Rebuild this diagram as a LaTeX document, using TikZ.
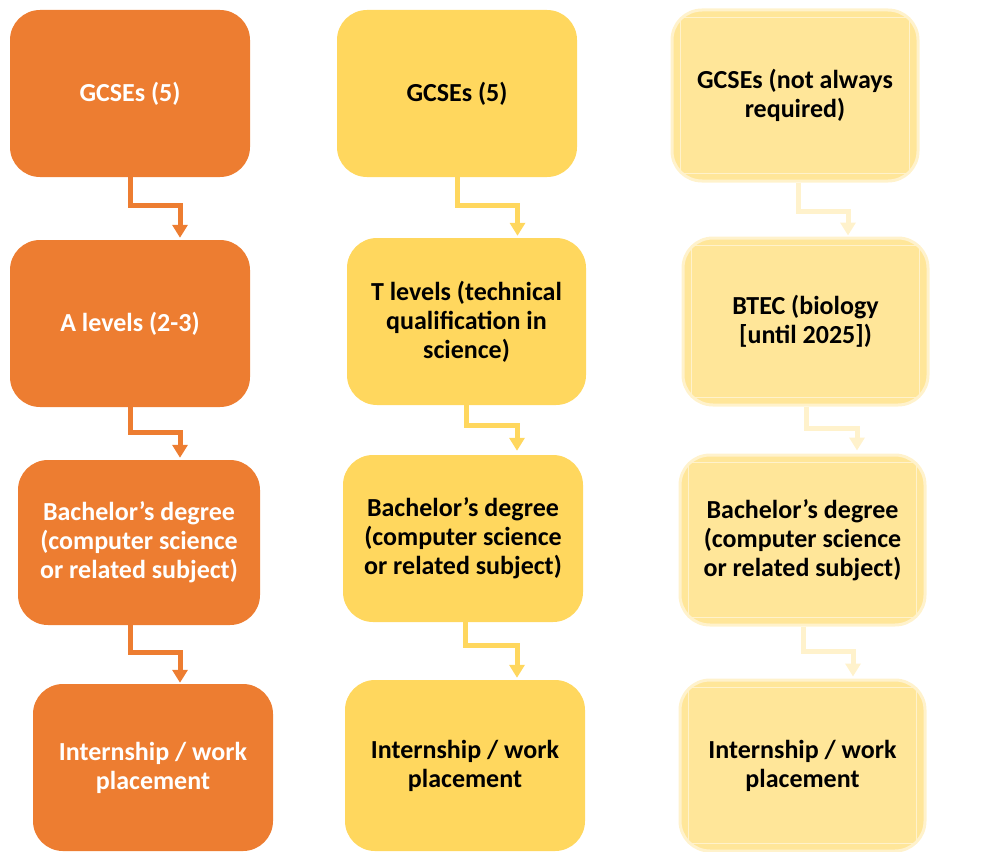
\documentclass[tikz,border=0pt]{standalone}
\usepackage{fontspec}
\setmainfont{Carlito}
\usetikzlibrary{arrows.meta}
\definecolor{orangeA}{HTML}{ED7D31}
\definecolor{goldB}{HTML}{FFD75E}
\definecolor{goldC}{HTML}{FFE699}
\definecolor{goldCl}{HTML}{FFF2CC}
\tikzset{
  box/.style={rectangle, rounded corners=30pt, align=center, inner sep=0pt,
    font=\fontsize{26}{29}\selectfont\bfseries},
  boxA/.style={box, fill=orangeA, text=white},
  boxB/.style={box, fill=goldB, text=black},
  boxC/.style={box, fill=goldC, draw=goldCl, line width=3pt, text=black},
  conn/.style={line width=5pt, -{Triangle[width=15pt,length=13pt]}},
  connA/.style={conn, draw=orangeA},
  connB/.style={conn, draw=goldB},
  connC/.style={conn, draw=goldCl},
  frameC/.style={draw=goldCl, line width=1.2pt}
}
\begin{document}
\begin{tikzpicture}[x=1pt,y=1pt]
\useasboundingbox (0,0) rectangle (1000,-851);
% column 1
\node[boxA, minimum width=240pt, minimum height=167pt] (a1) at (130,-93.5) {GCSEs (5)};
\node[boxA, minimum width=240pt, minimum height=167pt] (a2) at (130,-323.5) {A levels (2-3)};
\node[boxA, minimum width=242pt, minimum height=165pt] (a3) at (139,-542.5) {Bachelor’s degree\\(computer science\\or related subject)};
\node[boxA, minimum width=240pt, minimum height=167pt] (a4) at (153,-767.5) {Internship / work\\placement};
% column 2
\node[boxB, minimum width=240pt, minimum height=167pt] (b1) at (457,-93.5) {GCSEs (5)};
\node[boxB, minimum width=239pt, minimum height=167pt] (b2) at (466.5,-321.5) {T levels (technical\\qualification in\\science)};
\node[boxB, minimum width=240pt, minimum height=167pt] (b3) at (463,-538.5) {Bachelor’s degree\\(computer science\\or related subject)};
\node[boxB, minimum width=240pt, minimum height=171pt] (b4) at (465,-765.5) {Internship / work\\placement};
% column 3
\node[boxC, minimum width=246pt, minimum height=171pt] (c1) at (795,-95.5) {GCSEs (not always\\required)};
\node[boxC, minimum width=245pt, minimum height=167pt] (c2) at (805.5,-321.5) {BTEC (biology\\{[until 2025]})};
\node[boxC, minimum width=245pt, minimum height=170pt] (c3) at (802.5,-540) {Bachelor’s degree\\(computer science\\or related subject)};
\node[boxC, minimum width=245pt, minimum height=171pt] (c4) at (802.5,-765.5) {Internship / work\\placement};
\foreach \n in {c1,c2,c3,c4}{
  \draw[frameC] ([xshift=10pt,yshift=-9pt]\n.north west) rectangle ([xshift=-10pt,yshift=9pt]\n.south east);
}
% connectors column 1
\draw[connA] (a1.south) -- ++(0,-28) -| ([xshift=50pt,yshift=2pt]a2.north);
\draw[connA] (a2.south) -- ++(0,-25) -| ([xshift=41pt,yshift=2pt]a3.north);
\draw[connA] ([xshift=-9pt]a3.south) -- ++(0,-27) -| ([xshift=27pt,yshift=1pt]a4.north);
% connectors column 2
\draw[connB] (b1.south) -- ++(0,-28) -| ([xshift=51pt,yshift=2pt]b2.north);
\draw[connB] (b2.south) -- ++(0,-20) -| ([xshift=54pt,yshift=4pt]b3.north);
\draw[connB] ([xshift=2pt]b3.south) -- ++(0,-23) -| ([xshift=52pt,yshift=2pt]b4.north);
% connectors column 3
\draw[connC] ([xshift=3pt]c1.south) -- ++(0,-29) -| ([xshift=42.5pt,yshift=1pt]c2.north);
\draw[connC] ([xshift=0.5pt]c2.south) -- ++(0,-22) -| ([xshift=54.5pt,yshift=3pt]c3.north);
\draw[connC] ([xshift=0.5pt]c3.south) -- ++(0,-25) -| ([xshift=50.5pt,yshift=2pt]c4.north);
\end{tikzpicture}
\end{document}
